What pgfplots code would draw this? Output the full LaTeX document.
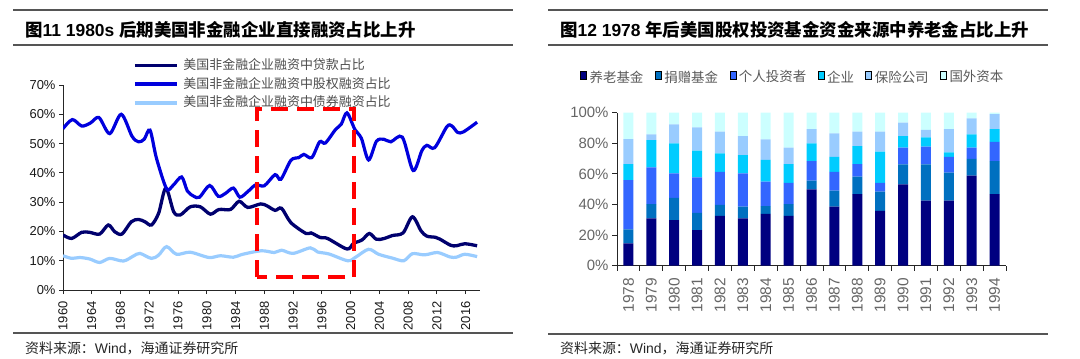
\documentclass[border=0pt]{standalone}
\usepackage{pgfplots}
\pgfplotsset{compat=1.18}
\usepackage{pgfplotstable}
\usepackage{fontspec}
\setmainfont{Liberation Sans}
\newfontfamily\cjk{Noto Sans CJK SC}
\definecolor{loanc}{HTML}{00006E}
\definecolor{eqc}{HTML}{0000DD}
\definecolor{bondc}{HTML}{99CCFF}
\definecolor{c1}{HTML}{000080}
\definecolor{c2}{HTML}{0070C0}
\definecolor{c3}{HTML}{3366FF}
\definecolor{c4}{HTML}{00CCFF}
\definecolor{c5}{HTML}{99CCFF}
\definecolor{c6}{HTML}{CCFFFF}
\definecolor{rulec}{HTML}{555555}

\pgfplotstableread{
x p e i c s f
0 14.6 9.1 32.3 10.4 16.4 17.2
1 30.9 9.4 24.0 17.8 3.7 14.2
2 29.8 14.6 15.9 19.7 12.4 7.6
3 23.3 11.3 23.1 17.5 15.2 9.6
4 32.5 7.2 21.7 12.0 14.2 12.4
5 30.9 7.7 21.7 12.0 12.4 15.3
6 33.8 5.2 15.9 14.2 13.5 17.4
7 32.5 7.8 13.9 12.2 10.7 22.9
8 49.9 5.7 12.8 11.6 9.3 10.7
9 38.6 10.4 12.4 9.8 15.3 13.5
10 46.8 11.4 8.2 11.8 9.4 12.4
11 35.9 12.5 5.8 20.3 13.1 12.4
12 53.2 13.0 10.9 7.6 8.8 6.5
13 42.5 23.7 11.6 6.1 4.8 11.3
14 42.5 18.3 10.4 2.9 15.2 10.7
15 58.8 11.1 7.2 8.7 10.5 3.7
16 46.8 21.6 12.6 8.3 9.8 0.9
}\bars

\begin{document}
\begin{tikzpicture}
\useasboundingbox (0bp,0bp) rectangle (1080bp,-359bp);
% ---------- left panel frame ----------
\draw[rulec, line width=1.5bp] (13bp,-10bp) -- (513bp,-10bp);
\draw[rulec, line width=1.5bp] (13bp,-45bp) -- (513bp,-45bp);
\draw[rulec, line width=1.5bp] (13bp,-333bp) -- (513bp,-333bp);
\node[anchor=west, inner sep=0pt, font=\bfseries\fontsize{17.5}{20}\selectfont] at (25bp,-29.5bp)
  {{\cjk\bfseries 图}11 1980s {\cjk\bfseries 后期美国非金融企业直接融资占比上升}};
\node[anchor=west, inner sep=0pt, font=\fontsize{14}{16}\selectfont, text=black!85] at (25bp,-348bp)
  {{\cjk 资料来源：}Wind{\cjk ，海通证券研究所}};
% ---------- right panel frame ----------
\draw[rulec, line width=1.5bp] (548bp,-10bp) -- (1048bp,-10bp);
\draw[rulec, line width=1.5bp] (548bp,-45bp) -- (1048bp,-45bp);
\draw[rulec, line width=1.5bp] (548bp,-334bp) -- (1048bp,-334bp);
\node[anchor=west, inner sep=0pt, font=\bfseries\fontsize{17.5}{20}\selectfont] at (560bp,-29.5bp)
  {{\cjk\bfseries 图}12 1978 {\cjk\bfseries 年后美国股权投资基金资金来源中养老金占比上升}};
\node[anchor=west, inner sep=0pt, font=\fontsize{14}{16}\selectfont, text=black!85] at (560bp,-348bp)
  {{\cjk 资料来源：}Wind{\cjk ，海通证券研究所}};

% ---------- left chart ----------
\begin{axis}[
  at={(63bp,-290bp)}, anchor=south west, scale only axis,
  width=417bp, height=205bp,
  xmin=1960, xmax=2018, ymin=0, ymax=70,
  axis lines*=left,
  axis line style={black!85, line width=0.9bp, -},
  xtick={1960,1964,...,2016}, ytick={0,10,...,70},
  tick align=outside, major tick length=4bp,
  tick style={black!85, line width=0.9bp},
  xticklabel shift=4bp,
  xticklabel style={rotate=90, anchor=east, font=\fontsize{13}{13}\selectfont, text=black!90},
  yticklabel style={font=\fontsize{13}{13}\selectfont, text=black!90},
  yticklabel={\pgfmathprintnumber{\tick}\%},
  /pgf/number format/1000 sep={},
  /pgf/number format/assume math mode=true,
  legend style={at={(axis description cs:0.168,1.132)}, anchor=north west,
    draw=none, fill=none, inner sep=0pt, row sep=4.9bp,
    nodes={inner sep=0pt, text height=11bp, text depth=3bp, text=black!70,
      font=\cjk\fontsize{13}{13}\selectfont},
    /tikz/every odd column/.append style={column sep=5bp}},
  legend cell align=left,
  legend image code/.code={\draw[#1, line width=3.2bp] (0bp,0bp) -- (42bp,0bp);},
]
\addplot[loanc, line width=3.3bp, smooth, tension=0.5] coordinates {
(1960,18.8) (1961.2,17.6) (1962.6,19.7) (1963.7,19.7) (1965.1,19.1) (1966.3,22.2)
(1967.2,19.9) (1968.2,19.1) (1969.5,23.3) (1970.5,24.1) (1971.4,23.3) (1972.3,22.2)
(1973.3,26.2) (1974.3,34.8) (1975.4,26.7) (1976.3,25.6) (1977.7,28.4) (1979.1,28.4)
(1980.5,25.9) (1981.7,27.5) (1983.3,27.5) (1984.5,30.3) (1985.7,28.2) (1987.5,29.4)
(1988.4,28.7) (1989.5,27.2) (1990.4,27.9) (1991.7,23.0) (1993.8,19.3) (1994.5,19.5)
(1995.8,17.9) (1996.8,17.6) (1999.5,14.0) (2000.4,15.9) (2001.6,17.1) (2002.6,19.3)
(2003.6,17.3) (2004.7,17.6) (2005.8,18.6) (2007.3,19.5) (2008.6,25.0) (2009.8,20.2)
(2010.6,18.4) (2011.8,18.0) (2012.4,17.4) (2013.9,15.3) (2014.7,15.1) (2015.9,15.8)
(2017.6,15.1)};
\addlegendentry{美国非金融企业融资中贷款占比}
\addplot[eqc, line width=3.2bp, smooth, tension=0.5] coordinates {
(1960,55.1) (1961.3,58.2) (1962.6,56.0) (1963.8,57.0) (1965.0,58.9) (1966.5,53.4)
(1968.1,60.0) (1969.6,52.5) (1970.5,50.6) (1971.3,51.5) (1972.1,54.6) (1973.0,45.0)
(1974.4,34.6) (1975.3,35.7) (1976.5,38.6) (1977.3,33.8) (1978.2,32.0) (1979.0,31.7)
(1980.4,35.7) (1981.6,32.0) (1982.6,33.0) (1983.7,34.8) (1984.6,31.7) (1985.7,33.6)
(1986.8,35.9) (1988.0,35.6) (1989.5,39.4) (1990.3,37.8) (1991.7,44.3) (1992.8,45.2)
(1993.5,46.3) (1994.6,45.2) (1995.7,50.6) (1996.5,50.2) (1997.9,54.8) (1998.7,56.6)
(1999.5,60.5) (2000.6,54.8) (2001.5,51.8) (2002.5,44.4) (2003.6,50.8) (2004.6,51.5)
(2005.6,50.6) (2007.2,52.2) (2008.7,40.8) (2009.9,47.5) (2010.6,49.4) (2011.7,48.6)
(2013.4,55.8) (2014.1,56.0) (2014.9,53.8) (2015.7,54.0) (2017.6,57.3)};
\addlegendentry{美国非金融企业融资中股权融资占比}
\addplot[bondc, line width=3.2bp, smooth, tension=0.5] coordinates {
(1960,11.7) (1961.2,10.8) (1962.3,11.1) (1963.7,10.6) (1965.1,9.4) (1966.5,10.8)
(1968.4,9.9) (1969.8,11.6) (1970.7,12.5) (1972.3,10.8) (1973.3,11.9) (1974.4,14.8)
(1975.8,12.2) (1977.7,12.9) (1980.3,11.1) (1981.9,11.7) (1983.7,11.2) (1985.0,12.2)
(1987.6,13.4) (1989.4,12.8) (1990.4,13.6) (1992.0,12.5) (1994.4,14.4) (1995.4,13.0)
(1997.0,12.3) (1999.6,10.0) (2000.7,11.2) (2002.5,13.9) (2003.9,12.2) (2005.8,10.9)
(2007.4,10.0) (2008.6,12.4) (2010.3,12.0) (2012.1,12.8) (2013.8,11.3) (2014.7,11.2)
(2015.9,12.2) (2017.6,11.4)};
\addlegendentry{美国非金融企业融资中债券融资占比}
\draw[red, line width=3.5bp, dash pattern=on 17bp off 9bp]
  (axis cs:1987,4.4) rectangle (axis cs:2000.5,61.8);
\end{axis}

% ---------- right chart ----------
\begin{axis}[
  at={(617bp,-265.7bp)}, anchor=south west, scale only axis,
  width=389bp, height=153bp,
  xmin=-0.5, xmax=16.5, ymin=0, ymax=100,
  ybar stacked, bar width=10bp,
  axis lines*=left,
  axis line style={black!85, line width=0.9bp, -},
  tick align=outside, major tick length=5bp,
  tick style={black!85, line width=0.9bp},
  xtick={-0.5,0.5,...,16.5}, xticklabels={},
  extra x ticks={0,1,...,16},
  extra x tick labels={1978,1979,1980,1981,1982,1983,1984,1985,1986,1987,1988,1989,1990,1991,1992,1993,1994},
  extra x tick style={major tick length=0pt, xticklabel shift=9bp,
    xticklabel style={rotate=90, anchor=east, font=\fontsize{15.5}{15.5}\selectfont, text=black!60}},
  ytick={0,20,...,100},
  yticklabel style={font=\fontsize{15}{15}\selectfont, text=black!60},
  yticklabel={\pgfmathprintnumber{\tick}\%},
  /pgf/number format/assume math mode=true,
  ybar legend/.style={legend image code/.code={\fill[##1,/tikz/.cd] (0bp,-3.5bp) rectangle (7bp,3.5bp);}},
  legend style={at={(axis description cs:-0.095,1.233)}, anchor=west,
    draw=none, fill=none, inner sep=0pt,
    nodes={inner sep=0pt, text=black!65, font=\cjk\fontsize{13.5}{14}\selectfont},
    /tikz/every odd column/.append style={column sep=3bp},
    /tikz/every even column/.append style={column sep=11.5bp}},
  legend columns=6,
]
\addplot[fill=c1, draw=none] table[x=x,y=p]{\bars};
\addlegendentry{养老基金}
\addplot[fill=c2, draw=none] table[x=x,y=e]{\bars};
\addlegendentry{捐赠基金}
\addplot[fill=c3, draw=none] table[x=x,y=i]{\bars};
\addlegendentry{个人投资者}
\addplot[fill=c4, draw=none] table[x=x,y=c]{\bars};
\addlegendentry{企业}
\addplot[fill=c5, draw=none] table[x=x,y=s]{\bars};
\addlegendentry{保险公司}
\addplot[fill=c6, draw=none] table[x=x,y=f]{\bars};
\addlegendentry{国外资本}
\end{axis}
\end{tikzpicture}
\end{document}
